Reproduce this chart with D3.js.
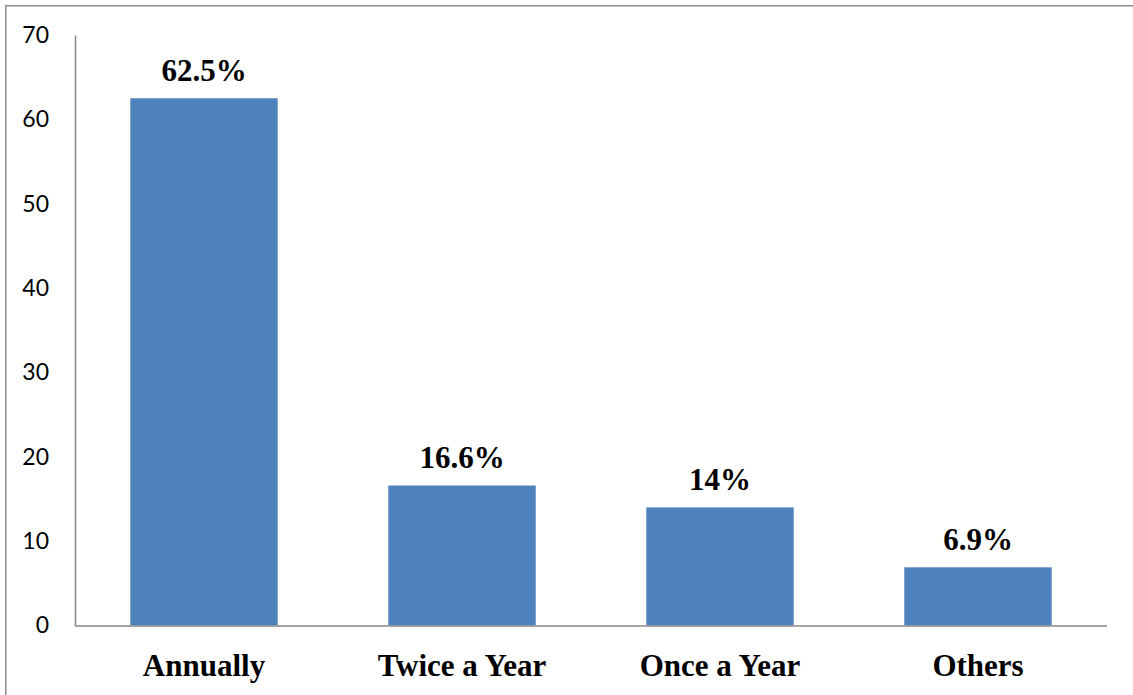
<!DOCTYPE html>
<html>
<head>
<meta charset="utf-8">
<script src="https://cdn.jsdelivr.net/npm/d3@7"></script>
<style>
  html, body { margin: 0; padding: 0; background: #fff; }
  svg { display: block; }
</style>
</head>
<body>
<svg id="chart" width="1133" height="695"></svg>
<script>
// Frequency categories and their shares (percent)
const categories = ["Annually", "Twice a Year", "Once a Year", "Others"];
const values = [62.5, 16.6, 14, 6.9];
const valueLabels = ["62.5%", "16.6%", "14%", "6.9%"];
const yTicks = [0, 10, 20, 30, 40, 50, 60, 70];

const svg = d3.select("#chart");
const W = 1133, H = 695;
const plot = { left: 75, right: 1107, top: 35, bottom: 625.5 };

// Chart frame (top and left edges)
svg.append("path")
  .attr("d", `M5.75,${H} V5.75 H${W}`)
  .attr("fill", "none")
  .attr("stroke", "#8c8c8c")
  .attr("stroke-width", 1.5);

const x = d3.scaleBand()
  .domain(categories)
  .range([plot.left, plot.right])
  .paddingInner(0.75 / 1.75)
  .paddingOuter(0.75 / 1.75 / 2);

const y = d3.scaleLinear()
  .domain([0, 70])
  .range([plot.bottom, plot.top]);

// Bars
svg.append("g").selectAll("rect")
  .data(values)
  .join("rect")
  .attr("x", (d, i) => x(categories[i]))
  .attr("y", d => y(d))
  .attr("width", x.bandwidth())
  .attr("height", d => y(0) - y(d))
  .attr("fill", "#4f81bd");

// Y axis
const yAxis = svg.append("g")
  .attr("transform", `translate(${plot.left},0)`)
  .call(d3.axisLeft(y).tickValues(yTicks).tickSize(0).tickPadding(26));
yAxis.select(".domain").attr("stroke", "#878787").attr("stroke-width", 1.5);
yAxis.selectAll("text")
  .attr("font-family", "Lato, 'Liberation Sans', sans-serif")
  .attr("font-size", 23)
  .attr("fill", "#000");

// X axis
const xAxis = svg.append("g")
  .attr("transform", `translate(0,${plot.bottom})`)
  .call(d3.axisBottom(x).tickSize(0).tickPadding(0));
xAxis.select(".domain").attr("d", `M${plot.left},0.5H${plot.right}`)
  .attr("stroke", "#878787").attr("stroke-width", 1.5);
xAxis.selectAll("text")
  .attr("dy", null)
  .attr("y", 50)
  .attr("font-family", "'Liberation Serif', 'Times New Roman', serif")
  .attr("font-weight", "bold")
  .attr("font-size", 31)
  .attr("fill", "#000");

// Value labels above bars
svg.append("g").selectAll("text")
  .data(values)
  .join("text")
  .attr("x", (d, i) => x(categories[i]) + x.bandwidth() / 2)
  .attr("y", d => y(d) - 17)
  .attr("text-anchor", "middle")
  .attr("font-family", "'Liberation Serif', 'Times New Roman', serif")
  .attr("font-weight", "bold")
  .attr("font-size", 31)
  .attr("fill", "#000")
  .text((d, i) => valueLabels[i]);
</script>
</body>
</html>
